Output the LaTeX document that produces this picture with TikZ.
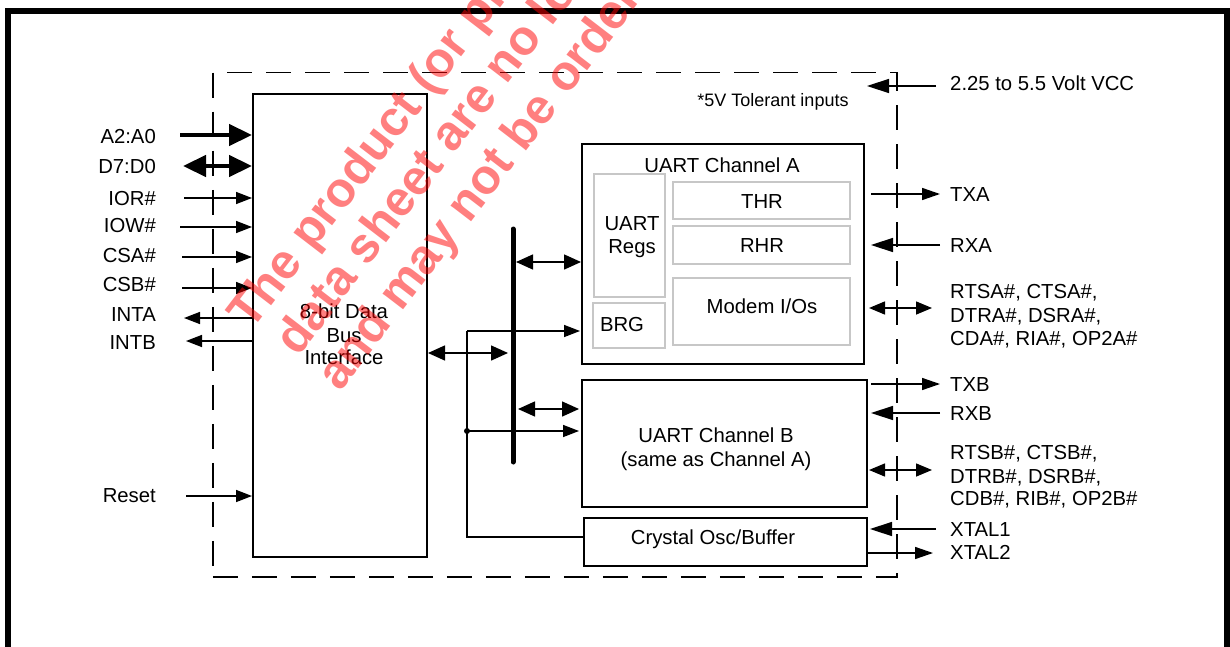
\documentclass[tikz,border=0pt]{standalone}
\usepackage{fontspec}
\setmainfont{Liberation Sans}
\usetikzlibrary{arrows.meta,calc}
\begin{document}
\begin{tikzpicture}[x=1pt,y=-1pt,
  box/.style={draw, line width=2pt, inner sep=0pt, anchor=north west},
  gbox/.style={draw=black!22, line width=1.8pt, inner sep=0pt, anchor=north west},
  txt/.style={font=\fontsize{20.3}{24}\selectfont, inner sep=0pt, text height=14.5pt, text depth=0pt},
  note/.style={font=\fontsize{18}{22}\selectfont, inner sep=0pt, text height=12.9pt, text depth=0pt},
  sig/.style={line width=1.5pt, -{Triangle[length=16pt,width=12pt]}},
  insig/.style={line width=1.5pt, -{Triangle[length=22pt,width=14pt]}},
  outsig/.style={line width=1.5pt, -{Triangle[length=18pt,width=12pt]}},
  dsig/.style={line width=1.5pt, {Triangle[length=16pt,width=13pt]}-{Triangle[length=16pt,width=13pt]}},
  dsigb/.style={line width=1.5pt, {Triangle[length=17pt,width=15pt]}-{Triangle[length=17pt,width=15pt]}},
  busarrow/.style={line width=4.5pt, -{Triangle[length=23pt,width=21pt]}},
  dbusarrow/.style={line width=4.5pt, {Triangle[length=23pt,width=21pt]}-{Triangle[length=23pt,width=21pt]}},
  wm/.style={font=\fontsize{49}{58}\selectfont\bfseries, text=red, text opacity=0.5, rotate=52.5, anchor=base west, inner sep=0pt},
]
\useasboundingbox (0,0) rectangle (1230,647);
\clip (0,0) rectangle (1230,647);
\fill[white] (0,0) rectangle (1230,647);

% outer frame
\draw[line width=6pt] (8,11) rectangle (1227,700);

% dashed chip outline
\node[draw, line width=1.5pt, dash pattern=on 25pt off 14pt, inner sep=0pt, anchor=north west,
      minimum width=684pt, minimum height=504pt] (chip) at (212,72) {};
\node[note] (tol) at (773,100) {*5V Tolerant inputs};

% data bus interface
\node[box, minimum width=174pt, minimum height=463pt] (dbi) at (252,93) {};
\node[txt] (dbi1) at (344,311) {8-bit Data};
\node[txt] (dbi2) at (344,335) {Bus};
\node[txt] (dbi3) at (344,357) {Interface};

% UART channel A
\node[box, minimum width=282pt, minimum height=220pt] (uarta) at (581,143) {};
\node[txt] (uartaT) at (722,165) {UART Channel A};
\node[gbox, minimum width=71pt, minimum height=123pt] (regs) at (593,173) {};
\node[txt] (regs1) at (632,223) {UART};
\node[txt] (regs2) at (632,246) {Regs};
\node[gbox, minimum width=72pt, minimum height=45pt] (brg) at (592,302) {};
\node[txt] (brgT) at (622,324) {BRG};
\node[gbox, minimum width=177pt, minimum height=37pt] (thr) at (672,181) {};
\node[txt] (thrT) at (762,201) {THR};
\node[gbox, minimum width=177pt, minimum height=38pt] (rhr) at (672,225) {};
\node[txt] (rhrT) at (762,245) {RHR};
\node[gbox, minimum width=177pt, minimum height=67pt] (modem) at (672,277) {};
\node[txt] (modemT) at (762,306) {Modem I/Os};

% UART channel B
\node[box, minimum width=285pt, minimum height=127pt] (uartb) at (581,379) {};
\node[txt] (uartb1) at (716,435) {UART Channel B};
\node[txt] (uartb2) at (716,459) {(same as Channel A)};

% crystal
\node[box, minimum width=283pt, minimum height=48pt] (xtal) at (583,517) {};
\node[txt] (xtalT) at (713,537) {Crystal Osc/Buffer};

% left signal labels
\node[txt, anchor=east] (la2) at (156,136) {A2:A0};
\node[txt, anchor=east] (ld7) at (156,166) {D7:D0};
\node[txt, anchor=east] (lior) at (156,198) {IOR\#};
\node[txt, anchor=east] (liow) at (156,225) {IOW\#};
\node[txt, anchor=east] (lcsa) at (156,255) {CSA\#};
\node[txt, anchor=east] (lcsb) at (156,284) {CSB\#};
\node[txt, anchor=east] (linta) at (156,314) {INTA};
\node[txt, anchor=east] (lintb) at (156,342) {INTB};
\node[txt, anchor=east] (lreset) at (156,495) {Reset};

\coordinate (a2) at (180,135);
\coordinate (d7) at (183,166);
\coordinate (ior) at (184,198);
\coordinate (iow) at (180,227);
\coordinate (csa) at (182,257);
\coordinate (csb) at (182,288);
\coordinate (inta) at (184,318);
\coordinate (intb) at (186,341);
\coordinate (reset) at (186,496);

\draw[busarrow] (a2) -- (dbi.west |- a2);
\draw[dbusarrow] (d7) -- (dbi.west |- d7);
\draw[sig] (ior) -- (dbi.west |- ior);
\draw[sig] (iow) -- (dbi.west |- iow);
\draw[sig] (csa) -- (dbi.west |- csa);
\draw[sig] (csb) -- (dbi.west |- csb);
\draw[sig] (dbi.west |- inta) -- (inta);
\draw[sig] (dbi.west |- intb) -- (intb);
\draw[sig] (reset) -- (dbi.west |- reset);

% right signal labels
\node[txt, anchor=west] (lvcc) at (950,83) {2.25 to 5.5 Volt VCC};
\node[txt, anchor=west] (ltxa) at (950,194) {TXA};
\node[txt, anchor=west] (lrxa) at (950,245) {RXA};
\node[txt, anchor=west] (lma1) at (950,291) {RTSA\#, CTSA\#,};
\node[txt, anchor=west] (lma2) at (950,315) {DTRA\#, DSRA\#,};
\node[txt, anchor=west] (lma3) at (950,338) {CDA\#, RIA\#, OP2A\#};
\node[txt, anchor=west] (ltxb) at (950,384) {TXB};
\node[txt, anchor=west] (lrxb) at (950,413) {RXB};
\node[txt, anchor=west] (lmb1) at (950,452) {RTSB\#, CTSB\#,};
\node[txt, anchor=west] (lmb2) at (950,476) {DTRB\#, DSRB\#,};
\node[txt, anchor=west] (lmb3) at (950,498) {CDB\#, RIB\#, OP2B\#};
\node[txt, anchor=west] (lx1) at (950,529) {XTAL1};
\node[txt, anchor=west] (lx2) at (950,552) {XTAL2};

\coordinate (vcc) at (936,86);
\coordinate (vcce) at (867,86);
\coordinate (txa) at (940,194);
\coordinate (rxa) at (940,245);
\coordinate (moda) at (932,308);
\coordinate (txb) at (940,384);
\coordinate (rxb) at (940,413);
\coordinate (modb) at (932,470);
\coordinate (x1) at (936,529);
\coordinate (x2) at (933,553);

\draw[insig] (vcc) -- (vcce);
\draw[outsig] ($(uarta.east |- txa)+(6,0)$) -- (txa);
\draw[insig] (rxa) -- ($(uarta.east |- rxa)+(6,0)$);
\draw[dsig] ($(uarta.east |- moda)+(4,0)$) -- (moda);
\draw[outsig] ($(uartb.east |- txb)+(3,0)$) -- (txb);
\draw[insig] (rxb) -- ($(uartb.east |- rxb)+(3,0)$);
\draw[dsig] ($(uartb.east |- modb)+(1,0)$) -- (modb);
\draw[insig] (x1) -- ($(xtal.east |- x1)+(2,0)$);
\draw[outsig] (xtal.east |- x2) -- (x2);

% internal bus
\coordinate (busT) at (513,229);
\coordinate (busB) at (513,462);
\draw[line width=5pt, line cap=round] (busT) -- (busB);
\coordinate (jd) at (513,353);
\coordinate (ja) at (513,262);
\coordinate (jb) at (513,409);
\draw[dsigb] (dbi.east |- jd) -- ([xshift=-5pt]jd);
\draw[dsigb] ([xshift=3pt]ja) -- (uarta.west |- ja);
\draw[dsigb] ([xshift=5pt]jb) -- ($(uartb.west |- jb)+(-2,0)$);

% clock distribution
\coordinate (ctop) at (467,331);
\coordinate (clk) at (467,431);
\coordinate (cbot) at (467,537);
\draw[line width=1.5pt] (ctop) -- (cbot) -- (xtal.west |- cbot);
\draw[sig] (ctop) -- ($(uarta.west |- ctop)+(-1,0)$);
\draw[sig] (clk) -- ($(uartb.west |- clk)+(-2,0)$);
\fill (clk) circle (3pt);

% watermark
\node[wm] (wm1) at (251,332) {The product (or products)};
\node[wm] (wm2) at (298,358) {data sheet are no longer};
\node[wm] (wm3) at (340,393) {and may not be ordered};
\end{tikzpicture}
\end{document}
